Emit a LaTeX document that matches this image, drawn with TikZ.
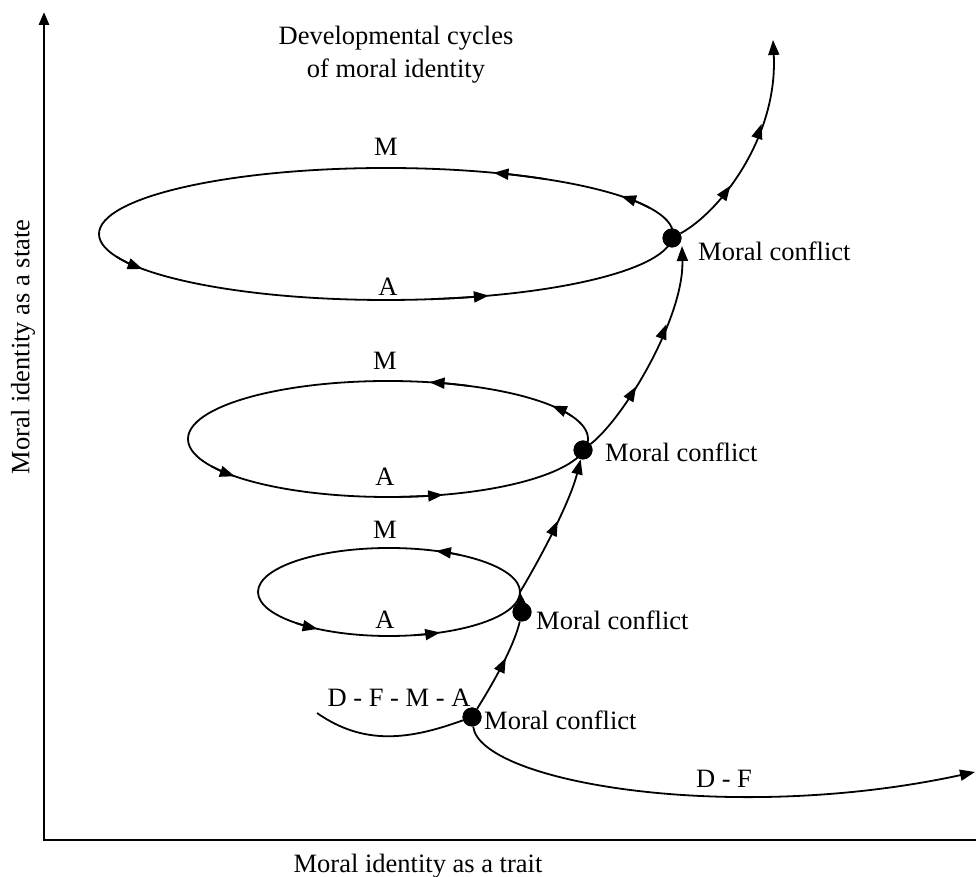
\documentclass[tikz,border=0pt]{standalone}
\usepackage{fontspec}
\setmainfont{Liberation Serif}
\usetikzlibrary{arrows.meta,decorations.markings,calc}
\newcommand{\elltip}[4]{\draw[curve,->] ($(#1)+({#2-12}:#3 and #4)$) arc[start angle={#2-12}, end angle={#2}, x radius=#3, y radius=#4];}
\begin{document}
\begin{tikzpicture}[x=1pt,y=1pt,
  >={Triangle[length=15pt,width=11pt]},
  curve/.style={line width=1.8pt},
  axis/.style={line width=2.8pt},
  lab/.style={font=\fontsize{26.5}{33}\selectfont, inner sep=0pt},
  dot/.style={circle,fill=black,minimum size=19pt,inner sep=0pt},
  tipA/.style={postaction={decorate},decoration={markings,mark=at position #1 with {\arrow{>}}}},
  tipAB/.style 2 args={postaction={decorate},decoration={markings,mark=at position #1 with {\arrow{>}},mark=at position #2 with {\arrow{>}}}},
]
\useasboundingbox (0,0) rectangle (976,877);
% axes
\coordinate (O) at (44,37);
\coordinate (Ytop) at (44,865);
\coordinate (Xend) at (988,37);
\draw[axis,{Triangle[length=13pt,width=10pt]}-{Triangle[length=12pt,width=10pt]}] (Ytop) -- (O) -- (Xend);
\node[lab,rotate=90] (ylab) at (23,530) {Moral identity as a state};
\node[lab] (xlab) at (418,11) {Moral identity as a trait};
\node[lab,align=center] (title) at (396,822) {Developmental cycles\\of moral identity};
% ellipses
\coordinate (C1) at (386,643);
\coordinate (C2) at (388,438);
\coordinate (C3) at (389,285);
\draw[curve] (C1) ellipse [x radius=287, y radius=66];
\draw[curve] (C2) ellipse [x radius=200, y radius=58];
\draw[curve] (C3) ellipse [x radius=131, y radius=44];
\elltip{C1}{35}{287}{66}
\elltip{C1}{68}{287}{66}
\elltip{C1}{212}{287}{66}
\elltip{C1}{291}{287}{66}
\elltip{C2}{78}{200}{58}
\elltip{C2}{35}{200}{58}
\elltip{C2}{220}{200}{58}
\elltip{C2}{286}{200}{58}
\elltip{C3}{69}{131}{44}
\elltip{C3}{237}{131}{44}
\elltip{C3}{293}{131}{44}
% dots
\node[dot] (D1) at (472,160) {};
\node[dot] (D2) at (522,265) {};
\node[dot] (D3) at (583,427) {};
\node[dot] (D4) at (672,639) {};
\coordinate (E3) at (520,285);
\coordinate (E4) at (682,631);
\coordinate (T) at (773,837);
\coordinate (L) at (317,164);
\coordinate (R) at (975,105);
% spiral
\draw[curve,tipA=0.6] (D1) .. controls (500,205) and (515,235) .. (D2);
\draw[curve,->] (D2.center) -- (E3);
\draw[curve,tipA=0.55,->] (E3) .. controls (540,318) and (570,375) .. (D3);
\draw[curve,tipAB={0.33}{0.64},->] (D3) .. controls (625,460) and (684,560) .. (E4);
\draw[curve,tipAB={0.31}{0.62},->] (D4) .. controls (720,665) and (778,740) .. (T);
\draw[curve] (L) to[out=-35,in=200] (D1);
\draw[curve,->] (D1) .. controls (480,95) and (730,52) .. (R);
% dots on top
\node[dot] at (D1) {};
\node[dot] at (D2) {};
\node[dot] at (D3) {};
\node[dot] at (D4) {};
% labels
\node[lab] (m1) at (386,730) {M};
\node[lab] (a1) at (388,590) {A};
\node[lab] (m2) at (385,516) {M};
\node[lab] (a2) at (385,400) {A};
\node[lab] (m3) at (385,347) {M};
\node[lab] (a3) at (385,257) {A};
\node[lab,anchor=west] (mc4) at (698,626) {Moral conflict};
\node[lab,anchor=west] (mc3) at (605,425) {Moral conflict};
\node[lab,anchor=west] (mc2) at (536,257) {Moral conflict};
\node[lab,anchor=west] (mc1) at (484,157) {Moral conflict};
\node[lab] (dfma) at (399,179) {D - F - M - A};
\node[lab] (df) at (724,98) {D - F};
\end{tikzpicture}
\end{document}
